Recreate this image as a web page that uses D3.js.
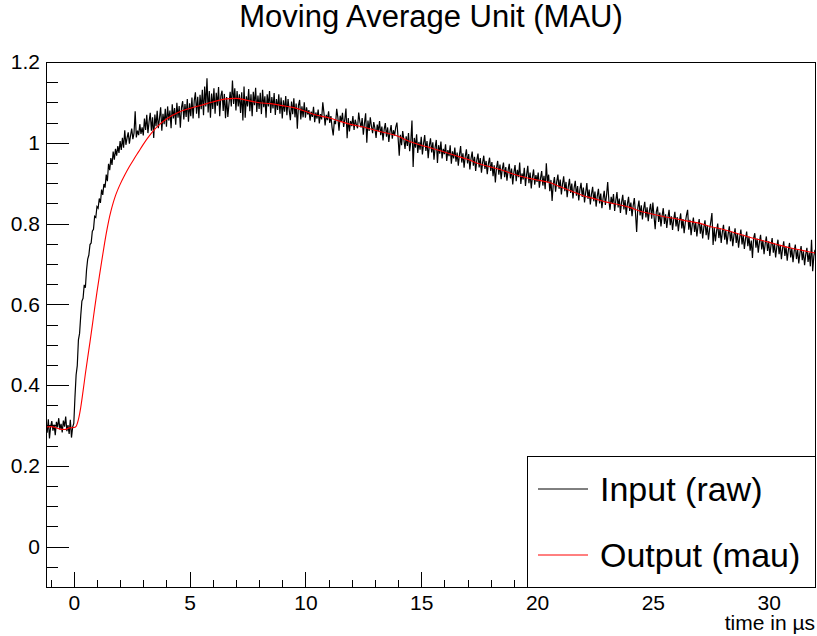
<!DOCTYPE html>
<head>
<meta charset="utf-8">
<title>Moving Average Unit (MAU)</title>
<script src="https://d3js.org/d3.v7.min.js"></script>
<style>
    body { margin: 0; background: #fff; }
    svg { display: block; font-family: "Liberation Sans", Arial, sans-serif; }
    .axis path { stroke: #000; stroke-width: 1; shape-rendering: crispEdges; }
    .axis line { stroke: #000; stroke-width: 1; shape-rendering: crispEdges; }
    .axis text { fill: #000; font-size: 21px; font-family: "Liberation Sans", Arial, sans-serif; }
    .raw { fill: none; stroke: #000; stroke-width: 1.2; }
    .mau { fill: none; stroke: #ff0000; stroke-width: 1.1; }
</style>
</head>
<body>
<div id="container"></div>
<script>
//-----------------------------DATA-----------------------------//
// raw input, one sample every 0.05 us starting at -1.2 us
var rawStart = -1.2;
var rawStep = 0.05;
var rawValues = [
  0.305, 0.282, 0.315, 0.268, 0.298, 0.311, 0.287, 0.302, 0.276, 0.309, 0.295, 0.318, 0.290, 0.304, 0.283, 0.312, 0.297, 0.322, 0.286, 0.301, 0.279, 0.314, 0.270, 0.296,
  0.305, 0.370, 0.425, 0.448, 0.512, 0.528, 0.572, 0.608, 0.615, 0.648, 0.641, 0.685, 0.712, 0.722, 0.748, 0.752, 0.781, 0.786, 0.818, 0.815,
  0.842, 0.838, 0.862, 0.851, 0.884, 0.871, 0.898, 0.889, 0.921, 0.905, 0.948, 0.932, 0.962, 0.945, 0.978, 0.958, 0.985, 0.968, 0.992, 0.975,
  1.004, 0.982, 1.012, 0.988, 1.031, 0.995, 1.012, 1.026, 0.998, 1.018, 1.035, 1.009, 1.024, 1.078, 1.013, 1.030, 1.019, 1.046, 1.022, 1.038,
  1.018, 1.060, 1.032, 1.069, 1.024, 1.052, 1.074, 1.030, 1.063, 1.012, 1.070, 1.041, 1.079, 1.036, 1.061, 1.088, 1.030, 1.072, 1.046, 1.084,
  1.040, 1.090, 1.055, 1.080, 1.036, 1.095, 1.060, 1.086, 1.045, 1.099, 1.062, 1.091, 1.037, 1.087, 1.103, 1.058, 1.096, 1.064, 1.108, 1.052,
  1.098, 1.066, 1.112, 1.060, 1.104, 1.125, 1.072, 1.114, 1.061, 1.119, 1.083, 1.131, 1.068, 1.139, 1.090, 1.160, 1.075, 1.128, 1.062, 1.122,
  1.084, 1.135, 1.072, 1.124, 1.092, 1.138, 1.066, 1.116, 1.129, 1.079, 1.121, 1.061, 1.113, 1.064, 1.097, 1.126, 1.090, 1.154, 1.096, 1.135,
  1.080, 1.128, 1.090, 1.120, 1.074, 1.125, 1.055, 1.139, 1.062, 1.115, 1.090, 1.133, 1.078, 1.120, 1.066, 1.126, 1.093, 1.136, 1.076, 1.117,
  1.084, 1.124, 1.071, 1.131, 1.088, 1.115, 1.062, 1.120, 1.090, 1.128, 1.074, 1.113, 1.085, 1.123, 1.069, 1.108, 1.081, 1.120, 1.072, 1.112,
  1.060, 1.105, 1.077, 1.116, 1.068, 1.108, 1.081, 1.056, 1.102, 1.071, 1.110, 1.063, 1.097, 1.035, 1.093, 1.106, 1.058, 1.090, 1.063, 1.100,
  1.062, 1.088, 1.070, 1.081, 1.055, 1.077, 1.064, 1.089, 1.051, 1.075, 1.060, 1.082, 1.048, 1.071, 1.058, 1.100, 1.074, 1.043, 1.069, 1.056,
  1.078, 1.049, 1.066, 1.038, 1.018, 1.055, 1.046, 1.084, 1.063, 1.030, 1.067, 1.052, 1.074, 1.039, 1.058, 1.085, 1.011, 1.061, 1.028, 1.054,
  1.041, 1.066, 1.032, 1.057, 1.045, 1.036, 1.075, 1.052, 1.038, 1.061, 1.020, 1.049, 1.073, 1.000, 1.055, 1.029, 1.063, 1.041, 1.024, 1.051,
  1.036, 1.012, 1.045, 1.028, 1.054, 1.019, 1.040, 1.006, 1.033, 1.049, 1.015, 1.038, 1.002, 1.027, 1.044, 1.010, 1.031, 1.018, 1.039, 1.050,
  1.013, 0.968, 1.020, 0.994, 1.029, 1.008, 0.985, 1.016, 0.992, 1.024, 0.979, 1.003, 1.055, 0.940, 1.012, 0.988, 1.021, 0.975, 1.002, 0.983,
  1.015, 0.971, 0.998, 1.019, 0.980, 1.004, 0.962, 0.993, 1.011, 0.976, 1.001, 0.958, 0.989, 1.007, 0.950, 0.994, 0.973, 1.003, 0.961, 0.985,
  0.972, 0.996, 0.955, 0.982, 0.967, 0.994, 0.948, 0.979, 0.961, 0.988, 0.953, 0.976, 0.943, 0.970, 0.992, 0.951, 0.974, 0.938, 0.966, 0.984,
  0.949, 0.972, 0.934, 0.961, 0.978, 0.943, 0.965, 0.930, 0.957, 0.973, 0.939, 0.962, 0.926, 0.951, 0.968, 0.935, 0.955, 0.922, 0.948, 0.963,
  0.930, 0.952, 0.917, 0.944, 0.902, 0.938, 0.955, 0.921, 0.946, 0.910, 0.935, 0.951, 0.915, 0.940, 0.906, 0.931, 0.948, 0.912, 0.936, 0.897,
  0.927, 0.945, 0.905, 0.933, 0.915, 0.951, 0.898, 0.924, 0.909, 0.938, 0.893, 0.921, 0.943, 0.900, 0.926, 0.887, 0.915, 0.934, 0.896, 0.920,
  0.903, 0.926, 0.889, 0.912, 0.930, 0.894, 0.918, 0.885, 0.949, 0.902, 0.921, 0.880, 0.908, 0.856, 0.897, 0.915, 0.879, 0.904, 0.921, 0.886,
  0.909, 0.872, 0.898, 0.917, 0.880, 0.903, 0.865, 0.891, 0.911, 0.876, 0.899, 0.862, 0.888, 0.906, 0.869, 0.893, 0.857, 0.884, 0.901, 0.866,
  0.889, 0.852, 0.877, 0.900, 0.861, 0.884, 0.847, 0.873, 0.891, 0.855, 0.879, 0.842, 0.868, 0.886, 0.850, 0.874, 0.838, 0.862, 0.881, 0.846,
  0.870, 0.903, 0.858, 0.834, 0.866, 0.849, 0.873, 0.831, 0.857, 0.878, 0.840, 0.862, 0.826, 0.853, 0.871, 0.835, 0.858, 0.822, 0.848, 0.866,
  0.831, 0.852, 0.818, 0.844, 0.863, 0.826, 0.779, 0.839, 0.857, 0.820, 0.845, 0.810, 0.836, 0.854, 0.815, 0.840, 0.806, 0.831, 0.849, 0.812,
  0.852, 0.818, 0.786, 0.829, 0.842, 0.804, 0.827, 0.793, 0.820, 0.838, 0.799, 0.823, 0.789, 0.815, 0.834, 0.796, 0.818, 0.784, 0.810, 0.829,
  0.793, 0.816, 0.781, 0.807, 0.825, 0.788, 0.811, 0.776, 0.802, 0.820, 0.834, 0.785, 0.809, 0.771, 0.797, 0.815, 0.779, 0.803, 0.768, 0.794,
  0.811, 0.775, 0.799, 0.763, 0.790, 0.808, 0.771, 0.795, 0.760, 0.786, 0.804, 0.826, 0.747, 0.789, 0.756, 0.781, 0.800, 0.764, 0.787, 0.752,
  0.779, 0.797, 0.760, 0.784, 0.748, 0.774, 0.793, 0.756, 0.780, 0.744, 0.770, 0.788, 0.752, 0.776, 0.740, 0.766, 0.785, 0.748, 0.772, 0.737,
  0.762, 0.780, 0.744, 0.768, 0.733, 0.758, 0.715, 0.764, 0.776, 0.740, 0.763, 0.728, 0.754, 0.772, 0.736, 0.759, 0.724, 0.750, 0.768, 0.732,
  0.756, 0.720, 0.746, 0.764, 0.728, 0.751, 0.716, 0.742, 0.760, 0.724, 0.747, 0.712, 0.738, 0.756, 0.720, 0.743, 0.708, 0.734, 0.752, 0.716,
  0.739, 0.704, 0.731, 0.748, 0.712, 0.735, 0.701, 0.727, 0.744, 0.709, 0.731, 0.697, 0.723, 0.740, 0.705, 0.728, 0.694, 0.760, 0.682, 0.719,
  0.735
];

// moving average output (mau)
var mauTimes = [-1.2, -1.0, -0.8, -0.6, -0.4, -0.2, 0.0, 0.1, 0.2, 0.3, 0.4, 0.5, 0.6, 0.7, 0.8, 0.9,
  1.0, 1.1, 1.2, 1.3, 1.4, 1.5, 1.6, 1.7, 1.8, 1.9, 2.0, 2.2, 2.4, 2.6, 2.8, 3.0, 3.3, 3.6, 4.0, 4.5,
  5.0, 5.5, 6.0, 6.5, 7.0, 7.5, 8.0, 8.5, 9.0, 9.5, 10.0, 10.5, 11.0, 11.5, 12.0, 12.5, 13.0, 13.5,
  14.0, 14.5, 15.0, 15.5, 16.0, 16.5, 17.0, 17.5, 18.0, 18.5, 19.0, 19.5, 20.0, 20.5, 21.0, 21.5,
  22.0, 22.5, 23.0, 23.5, 24.0, 24.5, 25.0, 25.5, 26.0, 26.5, 27.0, 27.5, 28.0, 28.5, 29.0, 29.5,
  30.0, 30.5, 31.0, 31.5, 32.0];
var mauValues = [0.296, 0.297, 0.295, 0.291, 0.290, 0.294, 0.295, 0.298, 0.315, 0.345, 0.385, 0.428, 0.468, 0.507, 0.548, 0.590,
  0.630, 0.668, 0.705, 0.741, 0.775, 0.805, 0.830, 0.851, 0.869, 0.884, 0.897, 0.920, 0.941, 0.960, 0.978, 0.996, 1.020, 1.040, 1.059, 1.075,
  1.085, 1.093, 1.101, 1.108, 1.110, 1.105, 1.099, 1.097, 1.092, 1.087, 1.078, 1.068, 1.062, 1.053, 1.045, 1.039, 1.031, 1.024,
  1.016, 1.003, 0.994, 0.986, 0.977, 0.968, 0.959, 0.948, 0.940, 0.932, 0.922, 0.914, 0.908, 0.902, 0.891, 0.880,
  0.869, 0.861, 0.853, 0.847, 0.840, 0.830, 0.823, 0.817, 0.812, 0.806, 0.801, 0.792, 0.786, 0.778, 0.769, 0.761,
  0.754, 0.746, 0.739, 0.733, 0.727];

var xMajorTicks = [0, 5, 10, 15, 20, 25, 30];
var yMajorTicks = [0, 0.2, 0.4, 0.6, 0.8, 1, 1.2];
var yTickLabels = ["0", "0.2", "0.4", "0.6", "0.8", "1", "1.2"];
var seriesNames = ["Input (raw)", "Output (mau)"];
var seriesColors = ["#000000", "#ff0000"];

//-----------------------------SVG------------------------------//
var W = 817, H = 636;
var margin = {top: 62, right: 2, bottom: 49, left: 46};
var width = W - margin.left - margin.right,
    height = H - margin.top - margin.bottom;

var svgRoot = d3.select("div#container").append("svg")
    .attr("width", W)
    .attr("height", H);

var svg = svgRoot.append("g")
    .attr("transform", "translate(" + margin.left + "," + margin.top + ")");

//----------------------------SCALES----------------------------//
var xScale = d3.scaleLinear().domain([-1.2, 32]).range([0, width]);
var yScale = d3.scaleLinear().domain([-0.1, 1.2]).range([height, 0]);

var raw = rawValues.map(function(v, i) { return {t: rawStart + i * rawStep, v: v}; });
var mau = mauValues.map(function(v, i) { return {t: mauTimes[i], v: v}; });

svg.append("clipPath").attr("id", "frameclip")
  .append("rect").attr("width", width).attr("height", height);

//----------------------------LINES-----------------------------//
var rawLine = d3.line()
    .x(function(d) { return xScale(d.t); })
    .y(function(d) { return yScale(d.v); });

var mauLine = d3.line()
    .curve(d3.curveMonotoneX)
    .x(function(d) { return xScale(d.t); })
    .y(function(d) { return yScale(d.v); });

svg.append("path")
    .datum(raw)
    .attr("class", "raw")
    .attr("clip-path", "url(#frameclip)")
    .attr("d", rawLine);

svg.append("path")
    .datum(mau)
    .attr("class", "mau")
    .attr("clip-path", "url(#frameclip)")
    .attr("d", mauLine);

//-----------------------------AXES-----------------------------//
// ROOT style: ticks point inwards, minor ticks half length
var xMinor = d3.range(-1, 33).filter(function(d) { return d % 5 !== 0; });
var yMinor = d3.range(-2, 25).map(function(d) { return d * 0.05; }).filter(function(d, i) { return (i + 2) % 4 !== 0; });

svg.append("g")
    .attr("class", "axis")
    .attr("transform", "translate(0," + height + ")")
    .call(d3.axisBottom(xScale).tickValues(xMinor).tickSize(-7).tickSizeOuter(0).tickFormat(""));

svg.append("g")
    .attr("class", "axis")
    .attr("transform", "translate(0," + height + ")")
    .call(d3.axisBottom(xScale).tickValues(xMajorTicks).tickSize(-15).tickSizeOuter(0).tickPadding(8));

svg.append("g")
    .attr("class", "axis")
    .call(d3.axisLeft(yScale).tickValues(yMinor).tickSize(-12).tickSizeOuter(0).tickFormat(""));

svg.append("g")
    .attr("class", "axis")
    .call(d3.axisLeft(yScale).tickValues(yMajorTicks).tickSize(-23).tickSizeOuter(0).tickPadding(6)
        .tickFormat(function(d, i) { return yTickLabels[i]; }));

// frame top and right
svg.append("rect")
    .attr("width", width).attr("height", height)
    .attr("fill", "none").attr("stroke", "#000").attr("shape-rendering", "crispEdges");

// axis title
svg.append("text")
    .attr("x", width)
    .attr("y", height + 43)
    .attr("text-anchor", "end")
    .style("font-size", "21px")
    .text("time in \u00b5s");

// title
svgRoot.append("text")
    .attr("x", 431)
    .attr("y", 27)
    .attr("text-anchor", "middle")
    .style("font-size", "31px")
    .text("Moving Average Unit (MAU)");

//----------------------------LEGEND----------------------------//
var legW = 288, legH = 131;
var legend = svg.append("g")
    .attr("transform", "translate(" + (width - legW) + "," + (height - legH) + ")");

legend.append("rect")
    .attr("width", legW).attr("height", legH)
    .attr("fill", "#fff").attr("stroke", "#000").attr("shape-rendering", "crispEdges");

seriesNames.forEach(function(name, i) {
    var cy = 33 + i * 66;
    legend.append("line")
        .attr("x1", 11).attr("x2", 61).attr("y1", cy).attr("y2", cy)
        .attr("stroke", seriesColors[i]).attr("stroke-width", 1);
    legend.append("text")
        .attr("x", 73).attr("y", cy + 12)
        .style("font-size", "34px")
        .text(name);
});
</script>
</body>
